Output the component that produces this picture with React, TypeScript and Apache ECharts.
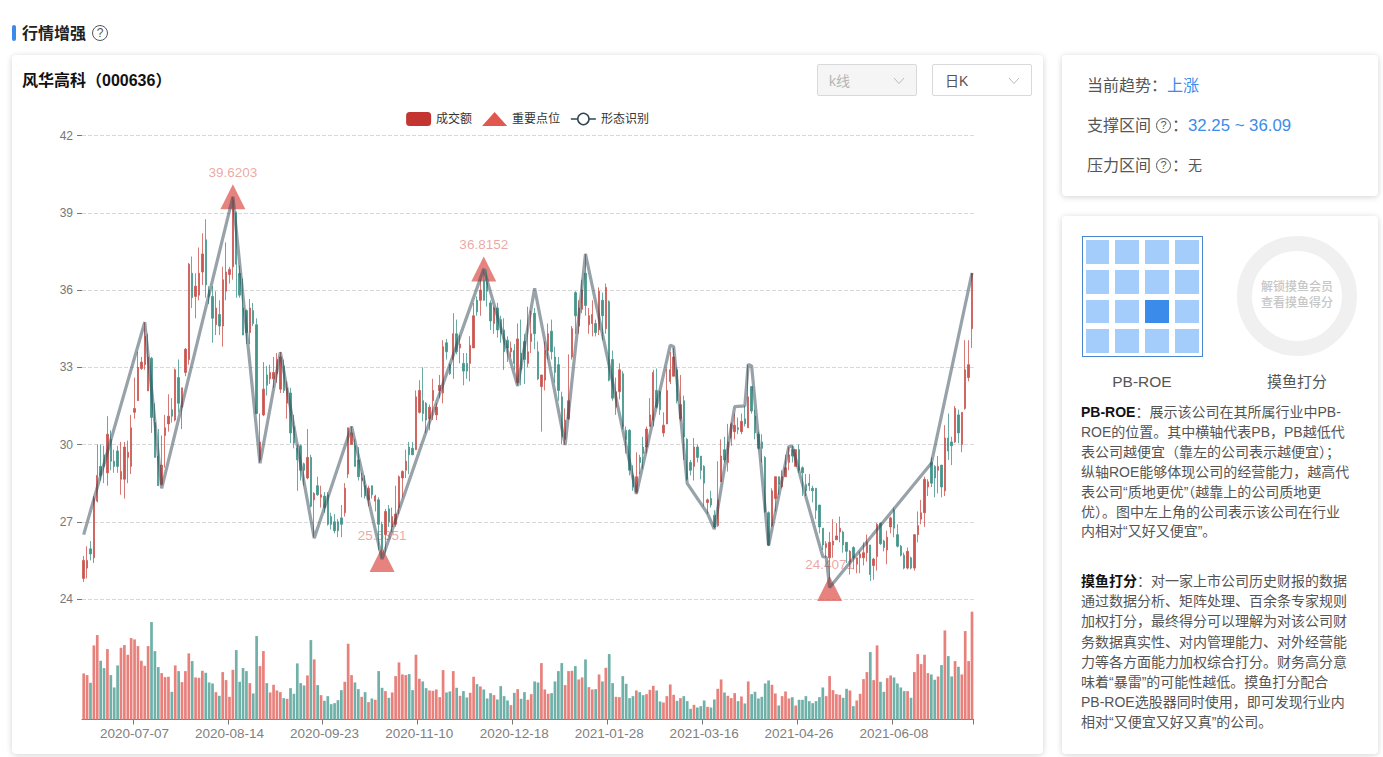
import React, { useEffect, useRef } from "react";
import * as echarts from "echarts";

const dates = [
"2020-06-12","2020-06-15","2020-06-16","2020-06-17","2020-06-18","2020-06-19","2020-06-22","2020-06-23","2020-06-24","2020-06-29","2020-06-30",
"2020-07-01","2020-07-02","2020-07-03","2020-07-06","2020-07-07","2020-07-08","2020-07-09","2020-07-10","2020-07-13","2020-07-14","2020-07-15","2020-07-16","2020-07-17","2020-07-20","2020-07-21","2020-07-22","2020-07-23","2020-07-24","2020-07-27","2020-07-28","2020-07-29","2020-07-30","2020-07-31",
"2020-08-03","2020-08-04","2020-08-05","2020-08-06","2020-08-07","2020-08-10","2020-08-11","2020-08-12","2020-08-13","2020-08-14","2020-08-17","2020-08-18","2020-08-19","2020-08-20","2020-08-21","2020-08-24","2020-08-25","2020-08-26","2020-08-27","2020-08-28","2020-08-31",
"2020-09-01","2020-09-02","2020-09-03","2020-09-04","2020-09-07","2020-09-08","2020-09-09","2020-09-10","2020-09-11","2020-09-14","2020-09-15","2020-09-16","2020-09-17","2020-09-18","2020-09-21","2020-09-22","2020-09-23","2020-09-24","2020-09-25","2020-09-28","2020-09-29","2020-09-30",
"2020-10-09","2020-10-12","2020-10-13","2020-10-14","2020-10-15","2020-10-16","2020-10-19","2020-10-20","2020-10-21","2020-10-22","2020-10-23","2020-10-26","2020-10-27","2020-10-28","2020-10-29","2020-10-30",
"2020-11-02","2020-11-03","2020-11-04","2020-11-05","2020-11-06","2020-11-09","2020-11-10","2020-11-11","2020-11-12","2020-11-13","2020-11-16","2020-11-17","2020-11-18","2020-11-19","2020-11-20","2020-11-23","2020-11-24","2020-11-25","2020-11-26","2020-11-27","2020-11-30",
"2020-12-01","2020-12-02","2020-12-03","2020-12-04","2020-12-07","2020-12-08","2020-12-09","2020-12-10","2020-12-11","2020-12-14","2020-12-15","2020-12-16","2020-12-17","2020-12-18","2020-12-21","2020-12-22","2020-12-23","2020-12-24","2020-12-25","2020-12-28","2020-12-29","2020-12-30","2020-12-31",
"2021-01-04","2021-01-05","2021-01-06","2021-01-07","2021-01-08","2021-01-11","2021-01-12","2021-01-13","2021-01-14","2021-01-15","2021-01-18","2021-01-19","2021-01-20","2021-01-21","2021-01-22","2021-01-25","2021-01-26","2021-01-27","2021-01-28","2021-01-29",
"2021-02-01","2021-02-02","2021-02-03","2021-02-04","2021-02-05","2021-02-08","2021-02-09","2021-02-10","2021-02-18","2021-02-19","2021-02-22","2021-02-23","2021-02-24","2021-02-25","2021-02-26",
"2021-03-01","2021-03-02","2021-03-03","2021-03-04","2021-03-05","2021-03-08","2021-03-09","2021-03-10","2021-03-11","2021-03-12","2021-03-15","2021-03-16","2021-03-17","2021-03-18","2021-03-19","2021-03-22","2021-03-23","2021-03-24","2021-03-25","2021-03-26","2021-03-29","2021-03-30","2021-03-31",
"2021-04-01","2021-04-02","2021-04-06","2021-04-07","2021-04-08","2021-04-09","2021-04-12","2021-04-13","2021-04-14","2021-04-15","2021-04-16","2021-04-19","2021-04-20","2021-04-21","2021-04-22","2021-04-23","2021-04-26","2021-04-27","2021-04-28","2021-04-29","2021-04-30",
"2021-05-06","2021-05-07","2021-05-10","2021-05-11","2021-05-12","2021-05-13","2021-05-14","2021-05-17","2021-05-18","2021-05-19","2021-05-20","2021-05-21","2021-05-24","2021-05-25","2021-05-26","2021-05-27","2021-05-28","2021-05-31",
"2021-06-01","2021-06-02","2021-06-03","2021-06-04","2021-06-07","2021-06-08","2021-06-09","2021-06-10","2021-06-11","2021-06-15","2021-06-16","2021-06-17","2021-06-18","2021-06-21","2021-06-22","2021-06-23","2021-06-24","2021-06-25","2021-06-28","2021-06-29","2021-06-30",
"2021-07-01","2021-07-02","2021-07-05","2021-07-06","2021-07-07","2021-07-08","2021-07-09","2021-07-12",
];

const opens = [
24.8,25.2,25.95,25.6,27.8,29.15,29.6,28.9,30.2,29.35,29.75,28.65,28.65,29.5,29.15,31.25,31.7,32.95,33.1,32.08,
33.35,30.85,29.55,28.45,30.35,30.8,31.35,30.95,32.6,31.45,32.8,33.3,36.65,35.75,35.8,36.7,37.95,36,35.75,34.65,
35.05,34.6,35.95,36.6,36.9,39,36.65,35.3,35.2,34.35,35.2,34.65,29.4,31.15,32.7,32.55,32.55,32.75,32.15,33.05,
31.6,32,30.7,29.85,29.95,29.25,28.7,29.5,27.85,28.4,27.95,28,28.05,27.2,27,27,27.15,27.35,28.85,30,
29.95,29.4,28.6,28.4,27.85,28.4,27.8,27.85,26.9,26.5,27.5,26.8,26.9,27.55,28.7,29,29.9,29.85,29.8,31.25,
31.7,31.6,31,31.7,31.15,32.1,32,33.95,33.1,33.3,34.3,33.75,33.15,33.15,33.15,33.75,35.6,35.6,36.4,36.3,
35.5,34.7,35.3,34.85,34.45,34.05,33.6,33.65,32.4,33.55,34,33.15,34,35.1,33.6,32.25,32.5,33.65,34.4,33.4,
33.1,31.85,30.2,31,33.4,35.9,34.6,35.25,36.65,34.65,34.7,34.7,34.45,35.6,34.5,35.55,33.3,31.45,32.05,32.75,
30.55,30.55,28.8,28.15,29.5,29.9,29.9,30.7,30.95,32.1,32.05,30.45,30.8,32.45,32.65,32.9,31,31.7,30.2,29.3,
29.15,29.9,29.55,29.15,27.75,27.9,27.25,26.85,28.55,29.8,29.3,30.25,30.5,30.65,30.5,31,30.65,32.25,31.1,30.4,
30.1,29.5,27.35,26.85,27.9,28.75,28.35,28.75,29.3,29.8,29.15,29.8,29.1,28.45,28.5,28.3,28.3,27.65,26.75,26,
25.6,26.1,26.3,26.6,26.6,26.2,25.45,26,25.35,25.6,25.6,25.8,26.1,25.3,25.65,26.95,26.25,25.9,26.8,27.45,
26.5,26.05,25.7,25.2,25.6,25.2,26.5,27.1,27.35,28.35,29.3,29.15,29,29.2,28.2,30.25,30.1,30.1,31.15,30,
31.4,32.6,34.5,
];
const closes = [
25.5,25.5,25.75,27.9,28.8,28.8,29.15,30.4,29.35,29.15,29.15,28.95,29.9,29.7,30.65,31.4,33,33.2,34.2,33.4,
31.05,29.5,28.4,29.2,30.65,31.1,31.1,32.9,31.6,32.2,33.7,37,35.7,36.15,36.65,37.4,36.2,35.75,34.9,35.3,
34.6,36.4,36.7,36.8,39.5,37,35.8,34.25,34.35,35.3,34.7,31.2,30.1,32.15,32.3,32.8,32.8,33.3,33.4,32.1,
32.2,30.45,30.05,29.4,29,29,29.5,27.6,28.1,28.05,28.05,27.55,26.9,26.9,26.65,26.65,26.9,28.3,30.65,30.45,
29.15,28.75,28.7,28,28.3,28.05,28,26.9,25.95,27.4,27,27.2,27.3,28.75,28.95,29.35,29.6,29.6,31.85,32.1,
31.2,30.95,31.45,32.1,31.45,32.3,33.8,33.6,32.75,34.3,33.6,33.9,32.85,32.85,33.85,35,35.15,36,35.6,35.95,
34.8,35.3,34.45,34.3,33.6,33.75,33.75,33.15,34.1,32.9,33.3,33.6,34.3,34.3,32.55,32.7,33.65,34.3,33.6,32.8,
32.1,30.3,30.95,31.7,34.5,35,35.3,36,35.4,35,35.05,34.35,35.95,35,36.1,32.5,31.8,32.05,32.9,30.7,
30.2,29,28.35,28.75,29.3,29.65,30.6,31.15,32.8,31.45,31.35,30.75,32.1,32.9,33.4,31.7,31.55,30.3,28.65,29,
29.9,29.5,29,28.5,27.85,27.65,26.8,27.85,29.55,29.4,30.1,30.8,30.75,30.58,30.9,30.8,31.85,31.3,30.45,29.85,
29.85,27.4,26.1,28.2,28.75,28.45,28.75,29.1,29.6,29.55,29.8,29,28.9,28.2,28.4,28.2,27.45,26.8,26.1,26.15,
26.2,26.25,26.45,26.75,26.1,25.85,25.85,25.6,25.6,25.75,25.8,26.2,24.95,25.55,26.9,26.15,26,26.4,27.15,26.75,
26.05,25.7,25.2,25.85,25.2,26.5,26.85,27.35,28.65,28.55,28.5,28.7,29.15,28.35,30.25,29.75,29.95,31.4,30.45,31.25,
32.9,33.1,36.65,
];
const lows = [
24.66,24.8,25.5,25.4,27.75,28.6,28.5,28.4,29,28.9,28.9,28.05,27.9,28.5,28.85,31,31.7,32.9,32.9,32.08,
30.45,29.5,28.4,28.4,29.1,30.5,30.85,30.9,31.25,30.6,32.65,33.1,35.3,34.9,35.6,36.2,35.7,35.45,33.95,34.25,
34.25,33.8,35.6,36.25,36.4,35.7,35.7,34.25,33.9,33.9,34.6,31.2,29.3,31.1,31.9,32.35,32.2,32.4,32,32,
31,30.05,29.85,28.2,28.6,28.4,28.65,27.55,26.4,28,27.55,27.35,26.85,26.7,26.55,26.4,26.4,27.2,28.7,30,
29.15,28.6,27.95,27.9,27.6,27.9,27.4,25.9,25.6,25.8,26.8,26.6,26.8,27.3,27.95,28.7,28.85,29.6,29.8,31.2,
30.9,30.45,30.55,30.95,30.95,31.8,31.6,33.3,32.7,32.55,33.5,33.15,32.3,32.55,32.45,33.75,35,35,35.6,35.35,
34.45,34.3,34.15,33.95,32.9,33.2,33.4,32.9,32.3,32.3,32.35,33,33.55,33.7,32.5,30.5,32.1,33.3,33.3,32.4,
31.7,30,30,30.95,33.3,34.3,34.3,35.1,35,34.3,34.2,34.2,34.25,34.05,34.3,32.45,31.7,31.15,31.75,30.6,
29.65,28.8,28.2,28.1,28.85,29.05,29.65,30.7,30.7,31.4,31.15,30.3,30.8,32.35,32.65,31.6,30.9,29.4,28.6,28.8,
28.6,29.3,28.65,27.6,27.3,27.55,26.75,26.8,28.55,29.3,28.95,29.95,30.2,30.4,30.4,30.7,30.65,31.2,30.2,29.8,
29.3,27.35,26.05,26.8,27.4,28.05,28.3,28.75,29,29.3,29.15,28.9,28,28,28.2,27.75,27.1,26.55,25.9,25.6,
24.8,25.6,26.3,26.2,25.8,25.4,24.95,25.15,25,25,25.3,25.45,24.7,24.75,25.1,26.1,25.85,25.35,26.55,26.4,
26,25.65,25.15,25.15,25.15,25.1,26.2,26.9,26.8,28,28.35,27.95,28.1,27.95,28,29.4,29.2,30.05,30.05,29.7,
31.35,32.45,33.75,
];
const highs = [
25.67,26.05,26.25,28,30,30,29.95,31.1,30.55,29.8,29.95,30.1,30.1,30.15,31.15,32.6,33.6,33.4,34.75,34.3,
33.4,31.6,30.6,30.35,31.15,31.95,31.8,32.95,33.3,32.2,33.75,37.05,37.3,36.65,37.65,38.2,38.75,36.15,36.15,35.95,
35.6,36.9,37.85,36.9,39.62,39.05,36.95,36.45,35.25,35.65,35.5,34.9,31.2,33.2,33.05,33.1,33.4,33.55,33.6,33.3,
32.45,32.2,31.15,30,30,29.3,30.6,29.6,28.15,28.75,28.4,28.15,28.15,27.35,27.3,27.1,27.65,28.5,30.65,30.7,
30.2,29.9,28.9,28.8,28.4,28.4,28.05,27.95,27,27.5,27.65,27.55,28.4,28.8,29,29.8,30.1,30.1,32.1,32.5,
33,31.65,31.55,32.55,31.6,32.7,34.05,34.1,33.15,35.1,34.85,34.25,33.55,33.55,34.2,35.5,35.75,36.4,36.8,36.8,
35.6,35.35,35.5,35,34.9,34.2,34,33.9,34.7,34.85,34.3,35.35,35.2,35.3,34,32.7,34,34.7,34.85,33.8,
33.4,32.05,31.4,33.5,34.6,35.95,35.6,36.4,37.4,35.3,35.6,34.85,36.1,35.9,36.25,35.6,33.65,32.6,33.15,32.85,
30.7,30.6,29.2,29.7,29.6,30.3,30.7,31.8,32.9,32.95,32.1,31.25,32.95,33.6,33.75,33,32.7,31.9,30.25,29.4,
30.25,30,29.55,29.2,27.9,28.2,27.45,29.35,30.2,30.3,30.8,30.85,31.2,31.05,31.2,31.5,33.1,32.25,31.35,30.5,
30.4,29.55,27.4,28.3,28.75,28.75,29,29.6,29.9,29.95,29.8,30,29.15,28.85,28.85,28.4,28.3,27.65,26.75,26.25,
26.6,27.1,26.95,27.2,26.65,26.2,25.9,26.05,25.6,25.85,26.2,26.5,26.1,25.6,26.95,26.95,26.3,26.65,27.2,27.55,
26.9,26.1,25.8,26,25.65,26.5,27.4,27.85,28.75,28.65,29.5,29.2,29.55,29.2,30.75,31.2,30.3,31.5,31.35,31.25,
34.05,34.05,36.65,
];
const amounts = [
138,133,110,222,253,176,154,211,133,96,162,215,223,194,244,240,220,176,161,220,
292,205,157,139,127,128,83,162,145,112,145,198,175,126,125,146,140,111,108,82,
71,142,118,68,149,208,113,154,145,109,78,250,160,205,109,81,104,87,82,64,
62,94,77,168,109,102,132,238,180,103,73,56,70,46,49,58,88,113,227,133,
111,91,68,82,52,63,59,145,95,85,65,81,130,171,135,133,136,88,194,122,
114,94,87,86,90,67,148,81,84,145,95,71,85,66,80,128,106,99,90,63,
79,73,60,100,70,57,43,80,91,62,82,59,76,114,111,169,90,77,79,114,
145,169,103,145,146,160,120,126,180,97,90,91,135,114,155,196,109,68,67,130,
107,64,70,87,82,73,76,89,101,87,54,51,70,105,74,56,64,70,55,32,
44,36,40,57,38,36,60,92,120,81,71,64,79,55,69,48,114,76,83,63,
68,108,117,104,78,42,70,84,63,67,42,59,59,70,55,49,55,67,96,70,
130,88,76,74,65,92,87,40,57,77,121,142,202,118,222,113,83,124,132,126,
108,96,85,85,65,142,196,166,194,139,135,119,129,163,267,190,129,175,158,135,
265,175,323,
];

const pivotIndex = [0,8,18,23,44,52,58,68,79,88,101,118,128,133,142,148,163,173,174,178,184,186,192,195,196,197,202,208,209,213,218,219,220,250,262];
const pivotValues = [26.5,30.17,34.75,28.3,39.62,29.27,33.58,26.36,30.7,25.55,30.5,36.82,32.27,36.07,29.98,37.4,28.08,33.86,33.8,28.49,27.32,26.71,31.47,31.5,33.11,33.05,26.07,29.93,29.93,27.97,25.64,25.62,24.45,29.27,36.66];

const markIndex = [44,118,88,220];
const markValues = [39.6203,36.8152,25.5351,24.4071];

const yTicksMin = 24, yTicksMax = 42, yTickStep = 3;
const firstLabelIndex = 15, labelStep = 28;

const FONT = '"Liberation Sans","Noto Sans CJK SC",sans-serif';
const UP = "#cb5651", DOWN = "#44968b", UP_BAR = "#e8817c", DOWN_BAR = "#6fb1a8";

function Help({ size = 15 }: { size?: number }) {
  return (
    <span style={{ display: "inline-block", width: size, height: size, borderRadius: "50%", border: "1px solid #555", boxSizing: "border-box", textAlign: "center", lineHeight: size - 2 + "px", fontSize: size - 4, color: "#555" }}>?</span>
  );
}

function Chevron({ x, color }: { x: number; color: string }) {
  return (
    <svg width="12" height="8" style={{ position: "absolute", left: x, top: 12 }}>
      <polyline points="1,1 6,6.5 11,1" fill="none" stroke={color} strokeWidth="1" />
    </svg>
  );
}

const abs = (left: number, top: number, extra: React.CSSProperties = {}): React.CSSProperties => ({ position: "absolute", left, top, whiteSpace: "nowrap", ...extra });
const card: React.CSSProperties = { position: "absolute", background: "#fff", borderRadius: 4, boxShadow: "0 1px 6px rgba(0,0,0,0.18)" };

const cellX = [1086, 1115, 1145, 1175];
const cellY = [240, 270, 300, 329];
const cellW = [23, 24, 24, 24];
const cellH = [24, 24, 23, 24];

const para1 = ["：展示该公司在其所属行业中PB-", "ROE的位置。其中横轴代表PB，PB越低代", "表公司越便宜（靠左的公司表示越便宜）；", "纵轴ROE能够体现公司的经营能力，越高代", "表公司“质地更优”（越靠上的公司质地更", "优）。图中左上角的公司表示该公司在行业", "内相对“又好又便宜”。"];
const para2 = ["：对一家上市公司历史财报的数据", "通过数据分析、矩阵处理、百余条专家规则", "加权打分，最终得分可以理解为对该公司财", "务数据真实性、对内管理能力、对外经营能", "力等各方面能力加权综合打分。财务高分意", "味着“暴雷”的可能性越低。摸鱼打分配合", "PB-ROE选股器同时使用，即可发现行业内", "相对“又便宜又好又真”的公司。"];

export default function App() {
  const ref = useRef<HTMLDivElement>(null);
  useEffect(() => {
    const chart = echarts.init(ref.current!, undefined, { renderer: "svg" });
    const showLabel = (i: number) => i >= firstLabelIndex && (i - firstLabelIndex) % labelStep === 0;
    chart.setOption({
      animation: false,
      textStyle: { fontFamily: FONT },
      title: { text: "风华高科（000636）", left: 10, top: 17, padding: 0, textStyle: { fontSize: 16, fontWeight: 600, color: "#111", fontFamily: FONT } },
      legend: {
        top: 52, left: "center", itemGap: 10, itemWidth: 25, itemHeight: 14,
        textStyle: { fontSize: 12, color: "#333", fontFamily: FONT },
        data: [
          { name: "成交额", icon: "roundRect", itemStyle: { color: "#c23531" } },
          { name: "重要点位", icon: "triangle", itemStyle: { color: "#e2574f", opacity: 1 } },
          { name: "形态识别", itemStyle: { color: "#fff", borderColor: "#2f4554", borderWidth: 1.5, opacity: 1 }, lineStyle: { color: "#2f4554", opacity: 1, width: 1.5 } },
        ],
      },
      grid: [
        { left: 70, width: 891.7, top: 80.5, height: 463.5 },
        { left: 70, width: 891.7, top: 556.7, height: 107.8 },
      ],
      xAxis: [
        { type: "category", gridIndex: 0, data: dates, show: false },
        {
          type: "category", gridIndex: 1, data: dates,
          axisLine: { lineStyle: { color: "#777" } },
          axisTick: { show: true, length: 5, interval: showLabel as any, lineStyle: { color: "#777" } },
          axisLabel: { interval: showLabel as any, fontSize: 13.5, color: "#808080", margin: 7, fontFamily: FONT, hideOverlap: false },
        },
      ],
      yAxis: [
        {
          type: "value", gridIndex: 0, min: yTicksMin, max: yTicksMax, interval: yTickStep,
          axisLine: { show: false },
          axisTick: { show: true, length: 5, lineStyle: { color: "#777" } },
          axisLabel: { fontSize: 12, color: "#777", margin: 9, fontFamily: FONT },
          splitLine: { lineStyle: { type: "dashed", color: "#d8d8d8" } },
        },
        { type: "value", gridIndex: 1, min: 0, max: 323, show: false, splitLine: { show: false } },
      ],
      series: [
        {
          name: "重要点位", type: "scatter", xAxisIndex: 0, yAxisIndex: 0, z: 1,
          symbol: "triangle", symbolSize: 25,
          itemStyle: { color: "#dc4f47", opacity: 0.7 },
          label: { show: true, position: "top", distance: 5, fontSize: 13.5, color: "#e4827c", fontFamily: FONT, formatter: (p: any) => p.value[1].toFixed(4) },
          data: markIndex.map((m, i) => [dates[m], markValues[i]]),
        },
        {
          name: "K", type: "candlestick", xAxisIndex: 0, yAxisIndex: 0, z: 2, barWidth: 1.9,
          itemStyle: { color: UP, color0: DOWN, borderColor: UP, borderColor0: DOWN, borderWidth: 0.8 },
          data: dates.map((_, i) => [opens[i], closes[i], lows[i], highs[i]]),
        },
        {
          name: "形态识别", type: "line", xAxisIndex: 0, yAxisIndex: 0, z: 3,
          showSymbol: false, symbol: "circle", symbolSize: 10, connectNulls: true,
          lineStyle: { color: "#2f4554", opacity: 0.5, width: 3.2 },
          itemStyle: { color: "#2f4554" },
          data: pivotIndex.map((p, i) => [dates[p], pivotValues[i]]),
        },
        {
          name: "成交额", type: "bar", xAxisIndex: 1, yAxisIndex: 1, barWidth: 2.7,
          itemStyle: { color: (p: any) => (closes[p.dataIndex] >= opens[p.dataIndex] ? UP_BAR : DOWN_BAR) },
          data: amounts,
        },
      ],
    });
    return () => chart.dispose();
  }, []);

  const t: React.CSSProperties = { fontFamily: FONT };
  return (
    <div style={{ position: "fixed", left: 0, top: 0, width: 1383, height: 757, background: "#fff", overflow: "hidden", ...t }}>
      <div style={abs(12, 25, { width: 4, height: 16, background: "#3b8beb", borderRadius: 2 })} />
      <div style={abs(22, 24, { fontSize: 16, lineHeight: "20px", fontWeight: 700, color: "#222" })}>行情增强</div>
      <div style={abs(92, 25, { lineHeight: 0 })}><Help size={16} /></div>

      <div style={{ ...card, left: 12, top: 55, width: 1031, height: 699 }}>
        <div ref={ref} style={{ width: 1031, height: 699 }} />
      </div>

      <div style={abs(817, 64, { width: 100, height: 32, boxSizing: "border-box", border: "1px solid #d9d9d9", borderRadius: 2, background: "#f5f5f5" })}>
        <span style={abs(11, 6, { fontSize: 14, lineHeight: "20px", color: "#b5b5b5" })}>k线</span>
        <Chevron x={75} color="#bbb" />
      </div>
      <div style={abs(932, 64, { width: 100, height: 32, boxSizing: "border-box", border: "1px solid #d9d9d9", borderRadius: 2, background: "#fff" })}>
        <span style={abs(12, 6, { fontSize: 14, lineHeight: "20px", color: "#555" })}>日K</span>
        <Chevron x={75} color="#bbb" />
      </div>

      <div style={{ ...card, left: 1062, top: 55, width: 316, height: 141 }} />
      <div style={abs(1087, 76, { fontSize: 16, lineHeight: "20px", color: "#555" })}>当前趋势：</div>
      <div style={abs(1167, 76, { fontSize: 16, lineHeight: "20px", color: "#3b8beb" })}>上涨</div>
      <div style={abs(1087, 116, { fontSize: 16, lineHeight: "20px", color: "#555" })}>支撑区间</div>
      <div style={abs(1156, 118, { lineHeight: 0 })}><Help size={15} /></div>
      <div style={abs(1172, 116, { fontSize: 16, lineHeight: "20px", color: "#555" })}>：</div>
      <div style={abs(1188, 116, { fontSize: 16.8, lineHeight: "20px", color: "#3b8beb" })}>32.25 ~ 36.09</div>
      <div style={abs(1087, 156, { fontSize: 16, lineHeight: "20px", color: "#555" })}>压力区间</div>
      <div style={abs(1156, 158, { lineHeight: 0 })}><Help size={15} /></div>
      <div style={abs(1172, 156, { fontSize: 16, lineHeight: "20px", color: "#555" })}>：</div>
      <div style={abs(1188, 155, { fontSize: 14, lineHeight: "20px", color: "#555" })}>无</div>

      <div style={{ ...card, left: 1062, top: 216, width: 316, height: 538 }} />
      <div style={abs(1082, 236, { width: 121, height: 121, boxSizing: "border-box", border: "1px solid #4a86d0" })} />
      {cellY.map((y, r) => cellX.map((x, c) => (
        <div key={r + "-" + c} style={abs(x, y, { width: cellW[c], height: cellH[r], background: r === 2 && c === 2 ? "#3b8beb" : "#a5cdfc" })} />
      )))}
      <div style={abs(1237, 236, { width: 120, height: 120, boxSizing: "border-box", borderRadius: "50%", border: "15px solid #f0f0f0" })} />
      <div style={abs(1237, 279, { width: 120, textAlign: "center", fontSize: 12, lineHeight: "16px", fontWeight: 500, color: "#c6c6c6" })}>解锁摸鱼会员<br />查看摸鱼得分</div>
      <div style={abs(1082, 372, { width: 120, textAlign: "center", fontSize: 15.5, lineHeight: "20px", color: "#555" })}>PB-ROE</div>
      <div style={abs(1237, 372, { width: 120, textAlign: "center", fontSize: 15, lineHeight: "20px", color: "#555" })}>摸鱼打分</div>

      <div style={abs(1081, 403, { fontSize: 14, lineHeight: "19.9px", color: "#555" })}>
        {para1.map((l, i) => (
          <div key={i}>{i === 0 && <b style={{ color: "#111" }}>PB-ROE</b>}{l}</div>
        ))}
      </div>
      <div style={abs(1081, 571, { fontSize: 14, lineHeight: "20.2px", color: "#555" })}>
        {para2.map((l, i) => (
          <div key={i}>{i === 0 && <b style={{ color: "#111" }}>摸鱼打分</b>}{l}</div>
        ))}
      </div>
    </div>
  );
}
